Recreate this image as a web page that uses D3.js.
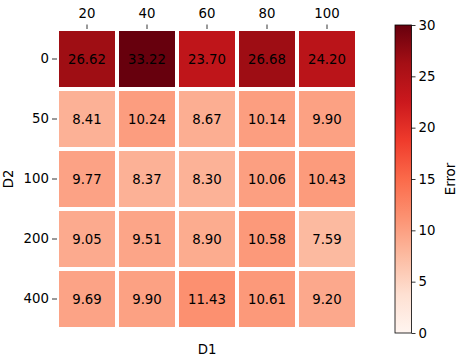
<!DOCTYPE html>
<html>
<head>
<meta charset="utf-8">
<script src="https://cdn.jsdelivr.net/npm/d3@7"></script>
<style>
  body { margin: 0; background: #fff; }
  text { font-family: "DejaVu Sans", sans-serif; }
</style>
</head>
<body>
<svg id="heatmap"></svg>
<script>
// data
let d1_values = [20, 40, 60, 80, 100]
let d2_values = [0, 50, 100, 200, 400]
let errors = [
    [26.62, 33.22, 23.70, 26.68, 24.20],
    [8.41, 10.24, 8.67, 10.14, 9.90],
    [9.77, 8.37, 8.30, 10.06, 10.43],
    [9.05, 9.51, 8.90, 10.58, 7.59],
    [9.69, 9.90, 11.43, 10.61, 9.20]
]
let cbar_ticks = [0, 5, 10, 15, 20, 25, 30]

let svg = d3.select('#heatmap')
            .attr('width', 457)
            .attr('height', 359)

// matplotlib "Reds"
let reds = ['#fff5f0','#fee0d2','#fcbba1','#fc9272','#fb6a4a','#ef3b2c','#cb181d','#a50f15','#67000d']
let color = d3.scaleLinear()
              .domain(reds.map((c, i) => i * 30 / 8))
              .range(reds)
              .clamp(true)

let x = d3.scaleBand().domain(d1_values).range([57, 357])
let y = d3.scaleBand().domain(d2_values).range([29, 329])

let cells = []
errors.forEach((row, i) => {
    row.forEach((v, j) => {
        cells.push({d1: d1_values[j], d2: d2_values[i], value: v})
    })
})

let block = svg.selectAll('g.cell')
               .data(cells)
               .enter()
               .append('g')
               .attr('class', 'cell')

block.append('rect')
     .attr('x', (c) => x(c.d1))
     .attr('y', (c) => y(c.d2))
     .attr('width', x.bandwidth())
     .attr('height', y.bandwidth())
     .attr('fill', (c) => color(c.value))
     .attr('stroke', 'white')
     .attr('stroke-width', 4)

block.append('text')
     .attr('x', (c) => x(c.d1) + x.bandwidth() / 2)
     .attr('y', (c) => y(c.d2) + y.bandwidth() / 2)
     .attr('text-anchor', 'middle')
     .attr('dominant-baseline', 'central')
     .attr('font-size', '13.3px')
     .attr('fill', 'black')
     .text((c) => c.value.toFixed(2))

// axes
let xAxis = svg.append('g')
               .attr('transform', 'translate(0,29)')
               .call(d3.axisTop(x).tickSize(4.5).tickPadding(7))
let yAxis = svg.append('g')
               .attr('transform', 'translate(57,0)')
               .call(d3.axisLeft(y).tickSize(5).tickPadding(3))
;[xAxis, yAxis].forEach((a) => {
    a.select('.domain').remove()
    a.selectAll('text').attr('font-size', '13.3px').attr('font-family', '"DejaVu Sans", sans-serif').attr('fill', '#000')
    a.selectAll('line').attr('stroke', '#000').attr('stroke-width', 0.8)
})

svg.append('text')
   .attr('x', 207)
   .attr('y', 354)
   .attr('text-anchor', 'middle')
   .attr('font-size', '13.3px')
   .text('D1')

svg.append('text')
   .attr('transform', 'translate(13,179) rotate(-90)')
   .attr('text-anchor', 'middle')
   .attr('font-size', '13.3px')
   .text('D2')

// colorbar
let cbY = d3.scaleLinear().domain([0, 30]).range([333, 25])
let defs = svg.append('defs')
let grad = defs.append('linearGradient')
               .attr('id', 'cbar')
               .attr('x1', 0).attr('y1', 1)
               .attr('x2', 0).attr('y2', 0)
grad.selectAll('stop')
    .data(reds)
    .enter()
    .append('stop')
    .attr('offset', (c, i) => (i / 8 * 100) + '%')
    .attr('stop-color', (c) => c)

svg.append('rect')
   .attr('x', 395)
   .attr('y', cbY(30))
   .attr('width', 16.5)
   .attr('height', cbY(0) - cbY(30))
   .attr('fill', 'url(#cbar)')
   .attr('stroke', '#000')
   .attr('stroke-width', 0.8)

let cbAxis = svg.append('g')
                .attr('transform', 'translate(411.5,0)')
                .call(d3.axisRight(cbY).tickValues(cbar_ticks).tickSize(4).tickPadding(3))
cbAxis.select('.domain').remove()
cbAxis.selectAll('text').attr('font-size', '13.3px').attr('font-family', '"DejaVu Sans", sans-serif').attr('fill', '#000')
cbAxis.selectAll('line').attr('stroke', '#000').attr('stroke-width', 0.8)

svg.append('text')
   .attr('transform', 'translate(455,179) rotate(-90)')
   .attr('text-anchor', 'middle')
   .attr('font-size', '13.3px')
   .text('Error')
</script>
</body>
</html>
